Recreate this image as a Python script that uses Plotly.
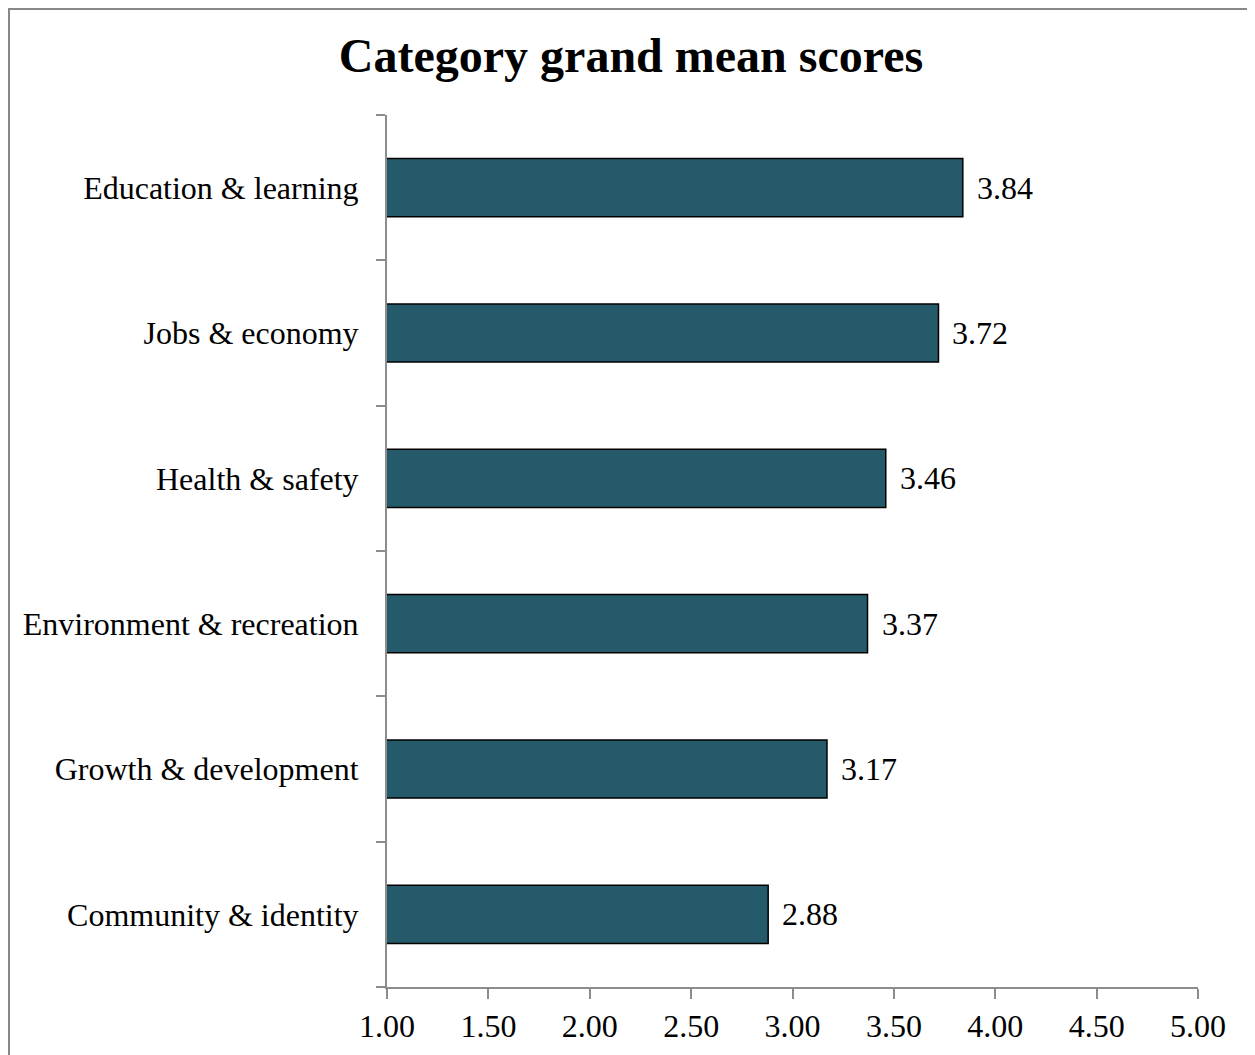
import plotly.graph_objects as go

categories = ["Education & learning", "Jobs & economy", "Health & safety",
              "Environment & recreation", "Growth & development", "Community & identity"]
scores = [3.84, 3.72, 3.46, 3.37, 3.17, 2.88]
x_ticks = [1.0, 1.5, 2.0, 2.5, 3.0, 3.5, 4.0, 4.5, 5.0]

W, H = 1247, 1047
L, R, T, B = 379, 57, 107, 68
pw, ph = W - L - R, H - T - B

FONT = "Liberation Serif, Times New Roman, serif"
AX = "#8c8c8c"
FS = 32

fig = go.Figure()
fig.add_trace(go.Bar(
    x=scores, y=categories, orientation="h",
    marker=dict(color="#245a69", line=dict(color="#000000", width=1.5)),
    width=0.4, showlegend=False, hoverinfo="skip",
))

for c, v in zip(categories, scores):
    fig.add_annotation(x=v, y=c, text=f"{v:.2f}", showarrow=False,
                       xanchor="left", yanchor="middle", xshift=12,
                       font=dict(family=FONT, size=FS, color="#000"))

def px2paper_x(p):
    return (p - L) / pw

def px2paper_y(p):
    return (H - B - p) / ph

fig.add_shape(type="rect", xref="paper", yref="paper",
              x0=px2paper_x(1), x1=px2paper_x(1245.5),
              y0=px2paper_y(1070), y1=px2paper_y(1),
              line=dict(color="#888888", width=2), fillcolor="rgba(0,0,0,0)", layer="below")

fig.update_layout(
    width=W, height=H,
    margin=dict(l=L, r=R, t=T, b=B, autoexpand=False),
    paper_bgcolor="white", plot_bgcolor="white",
    title=dict(text="<b>Category grand mean scores</b>", x=623 / W,
               xanchor="center", y=1 - 47 / H, yanchor="middle",
               font=dict(family=FONT, size=48, color="#000")),
    font=dict(family=FONT, size=FS, color="#000"),
    bargap=0.6,
)
fig.update_xaxes(range=[1, 5], tickvals=x_ticks, ticktext=[f"{t:.2f}" for t in x_ticks],
                 showgrid=False, zeroline=False, showline=True, linecolor=AX, linewidth=2,
                 ticks="outside", ticklen=10, tickcolor=AX, tickwidth=2,
                 tickfont=dict(family=FONT, size=FS, color="#000"), ticklabelstandoff=0)
fig.update_yaxes(categoryorder="array", categoryarray=categories[::-1],
                 showgrid=False, zeroline=False, showline=True, linecolor=AX, linewidth=2,
                 ticks="outside", ticklen=9, tickcolor=AX, tickwidth=2, tickson="boundaries",
                 tickfont=dict(family=FONT, size=FS, color="#000"), ticklabelstandoff=20)

fig.write_html("out.html")
